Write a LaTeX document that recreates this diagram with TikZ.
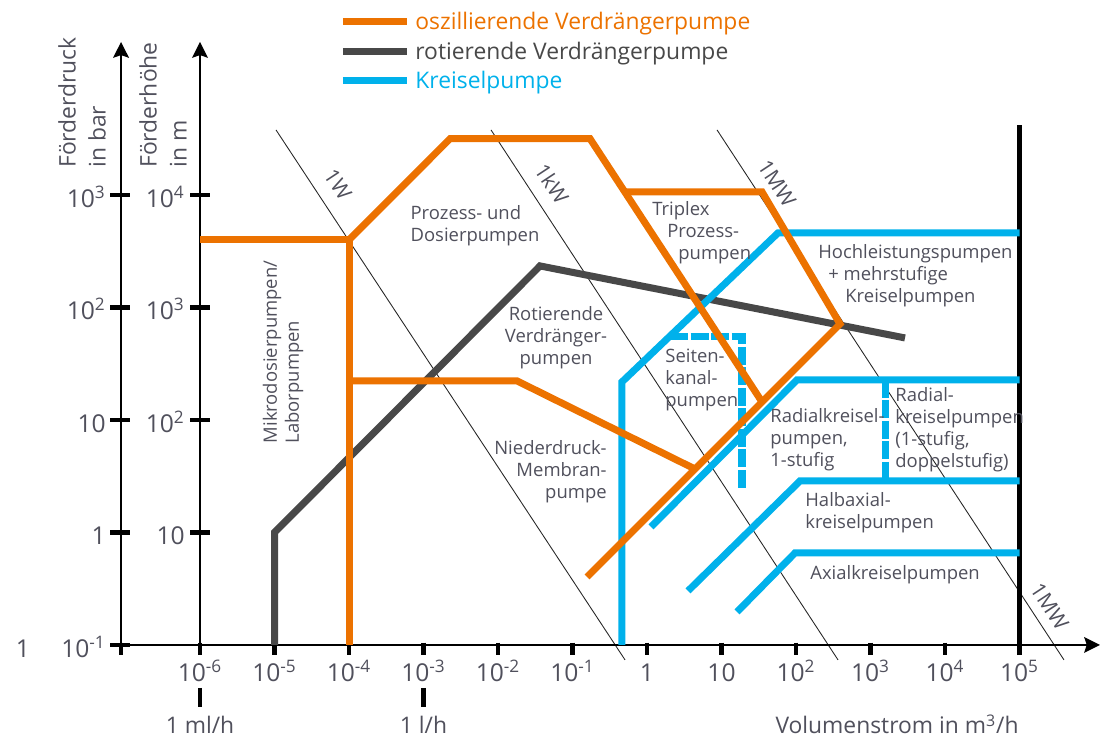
\documentclass[tikz,border=0pt]{standalone}
\usepackage{fontspec}
\setmainfont{Open Sans}
\usetikzlibrary{arrows.meta}

\definecolor{oszorange}{RGB}{236,114,0}
\definecolor{rotgray}{RGB}{72,72,72}
\definecolor{krsblue}{RGB}{0,177,235}
\definecolor{txtgray}{RGB}{80,80,92}

\begin{document}
\begin{tikzpicture}[x=1.49cm, y=2.25cm,
	osz/.style={line width=4pt, draw=oszorange},
	rotv/.style={line width=4pt, draw=rotgray},
	krs/.style={line width=4pt, draw=krsblue},
	krsdash/.style={krs, dash pattern=on 0.36cm off 0.05cm},
	power/.style={line width=0.5pt, draw=black!85},
	axisline/.style={line width=0.85pt, -{Stealth[length=9pt, width=9pt, inset=1.5pt]}},
	tickmark/.style={line width=2.5pt},
	ticklbl/.style={font=\fontsize{14}{16}\selectfont, text=txtgray, inner sep=0pt},
	axlbl/.style={font=\fontsize{13}{17}\selectfont, text=txtgray, inner sep=0pt, align=left},
	leglbl/.style={font=\fontsize{13}{15}\selectfont, inner sep=0pt, anchor=base west, yshift=-4.5pt},
	pumplbl/.style={font=\fontsize{10.5}{12.5}\selectfont, text=txtgray, inner sep=0pt, align=left},
	wattlbl/.style={font=\fontsize{12}{14}\selectfont, text=txtgray, inner sep=0pt, rotate=-56.6}]

\useasboundingbox (-8.685,-0.827) rectangle (6.094,5.733);

% LEGEND
\draw [osz] (-4.081,5.540) -- (-3.221,5.540);
\draw [rotv] (-4.081,5.274) -- (-3.221,5.274);
\draw [krs] (-4.081,5.013) -- (-3.221,5.013);
\node [leglbl, text=oszorange] (legosz) at (-3.114,5.540) {oszillierende Verdrängerpumpe};
\node [leglbl, text=rotgray] (legrot) at (-3.114,5.274) {rotierende Verdrängerpumpe};
\node [leglbl, text=krsblue] (legkrs) at (-3.114,5.013) {Kreiselpumpe};

% POWER LINES
\coordinate (w1a) at (-4.980,4.578); \coordinate (w1b) at (-0.295,-0.133);
\coordinate (kwa) at (-2.094,4.578); \coordinate (kwb) at (2.564,-0.133);
\coordinate (mwa) at (0.940,4.578);  \coordinate (mwb) at (5.597,-0.133);
\draw [power] (w1a) -- (w1b);
\draw [power] (kwa) -- (kwb);
\draw [power] (mwa) -- (mwb);
\node [wattlbl] (lblw) at (-4.150,4.095) {1W};
\node [wattlbl] (lblkw) at (-1.275,4.100) {1kW};
\node [wattlbl] (lblmw) at (1.745,4.100) {1MW};
\node [wattlbl] (lblmwb) at (5.405,0.340) {1MW};

% AXES
\draw [axisline] (-7.06,0) -- (-7.06,5.36);
\draw [axisline] (-6,0) -- (-6,5.36);
\draw [axisline] (-7.06,0) -- (6.08,0);
\foreach \y in {0,...,4}
	\draw [tickmark] (-7.208,\y) -- (-6.94,\y);
\foreach \y in {1,...,4}
	\draw [tickmark] (-6.134,\y) -- (-5.866,\y);
\draw [tickmark] (-7.06,0.02) -- (-7.06,-0.09);
\foreach \x in {-6,...,5}
	\draw [tickmark] (\x,0.02) -- (\x,-0.09);
\draw [tickmark] (-6,-0.382) -- (-6,-0.551);
\draw [tickmark] (-3,-0.382) -- (-3,-0.551);
\draw [line width=2.3pt] (5,-0.09) -- (5,4.622);

% AXIS LABELS
\node [axlbl, rotate=90, anchor=north west] (ydruck) at (-7.906,4.24) {Förderdruck\\in bar};
\node [axlbl, rotate=90, anchor=north west] (yhoehe) at (-6.819,4.24) {Förderhöhe\\in m};
\foreach \y/\t in {0/10\textsuperscript{-1}, 1/1, 2/10, 3/10\textsuperscript{2}, 4/10\textsuperscript{3}}
	\node [ticklbl, anchor=base east, yshift=-7pt] (yl\y) at (-7.262,\y) {\t};
\foreach \y/\t in {1/10, 2/10\textsuperscript{2}, 3/10\textsuperscript{3}, 4/10\textsuperscript{4}}
	\node [ticklbl, anchor=base east, yshift=-7pt] (yr\y) at (-6.201,\y) {\t};
\node [ticklbl, anchor=base, yshift=-7pt] (ylone) at (-8.376,0) {1};
\foreach \x/\t in {-6/10\textsuperscript{-6}, -5/10\textsuperscript{-5}, -4/10\textsuperscript{-4},
		-3/10\textsuperscript{-3}, -2/10\textsuperscript{-2}, -1/10\textsuperscript{-1}, 0/1, 1/10,
		2/10\textsuperscript{2}, 3/10\textsuperscript{3}, 4/10\textsuperscript{4}, 5/10\textsuperscript{5}}
	\node [ticklbl, anchor=base] (xl\x) at (\x,-0.325) {\t};
\node [axlbl, anchor=base] (mlh) at (-6,-0.791) {1 ml/h};
\node [axlbl, anchor=base] (lh) at (-3,-0.791) {1 l/h};
\node [axlbl, anchor=base] (vstrom) at (3.356,-0.791) {Volumenstrom in m\textsuperscript{3}/h};

% ROTIERENDE
\draw [rotv] (-5,0) -- (-5,1.0) -- (-1.436,3.369) -- (3.463,2.729);

% KREISEL
\draw [krs] (-0.336,0) -- (-0.336,2.338) -- (1.758,3.662) -- (5,3.662);
\draw [krs] (0.054,1.049) -- (2.013,2.356) -- (5,2.356);
\draw [krs] (0.550,0.480) -- (2.054,1.458) -- (5,1.458);
\draw [krs] (1.208,0.293) -- (1.987,0.818) -- (5,0.818);
\draw [krsdash] (0.309,2.738) -- (1.275,2.738) -- (1.275,1.378);
\draw [krsdash] (3.195,2.356) -- (3.195,1.458);

% OSZILLIERENDE
\coordinate (tri) at (-0.298,4.027);
\draw [osz] (-6,3.6) -- (-4,3.6) -- (-4,0);
\draw [osz] (-4,3.6) -- (-2.644,4.5) -- (-0.765,4.5) -- (1.544,2.160);
\draw [osz] (tri) -- (1.544,4.027) -- (2.591,2.853) -- (-0.805,0.604);
\draw [osz] (-4,2.347) -- (-1.745,2.347) -- (0.644,1.564);

% REGIONS
\node [pumplbl] (proz) at (-2.309,3.729) {Prozess- und\\Dosierpumpen};
\node [pumplbl, rotate=90] (mikro) at (-4.886,2.604) {Mikrodosierpumpen/\\Laborpumpen};
\node [pumplbl, align=center] (rotpu) at (-1.221,2.729) {Rotierende\\Verdränger-\\pumpen};
\node [pumplbl, align=right, anchor=east] (membr) at (-0.537,1.538) {Niederdruck-\\Membran-\\pumpe};
\node [pumplbl, anchor=west] (tripl) at (0.067,3.662) {Triplex\\\hspace*{8.5pt}Prozess-\\\hspace*{14.8pt}pumpen};
\node [pumplbl, anchor=west] (hochl) at (2.295,3.28) {Hochleistungspumpen\\\hspace*{5.7pt}+ mehrstufige\\\hspace*{15.4pt}Kreiselpumpen};
\node [pumplbl, anchor=west] (seitk) at (0.242,2.356) {Seiten-\\kanal-\\pumpen};
\node [pumplbl, anchor=west] (rad1) at (1.651,1.822) {Radialkreisel-\\pumpen,\\1-stufig};
\node [pumplbl, anchor=west] (rad2) at (3.329,1.916) {Radial-\\kreiselpumpen\\(1-stufig,\\doppelstufig)};
\node [pumplbl, anchor=west] (halb) at (2.121,1.178) {Halbaxial-\\kreiselpumpen};
\node [pumplbl, anchor=west] (axial) at (2.188,0.622) {Axialkreiselpumpen};

\end{tikzpicture}
\end{document}
